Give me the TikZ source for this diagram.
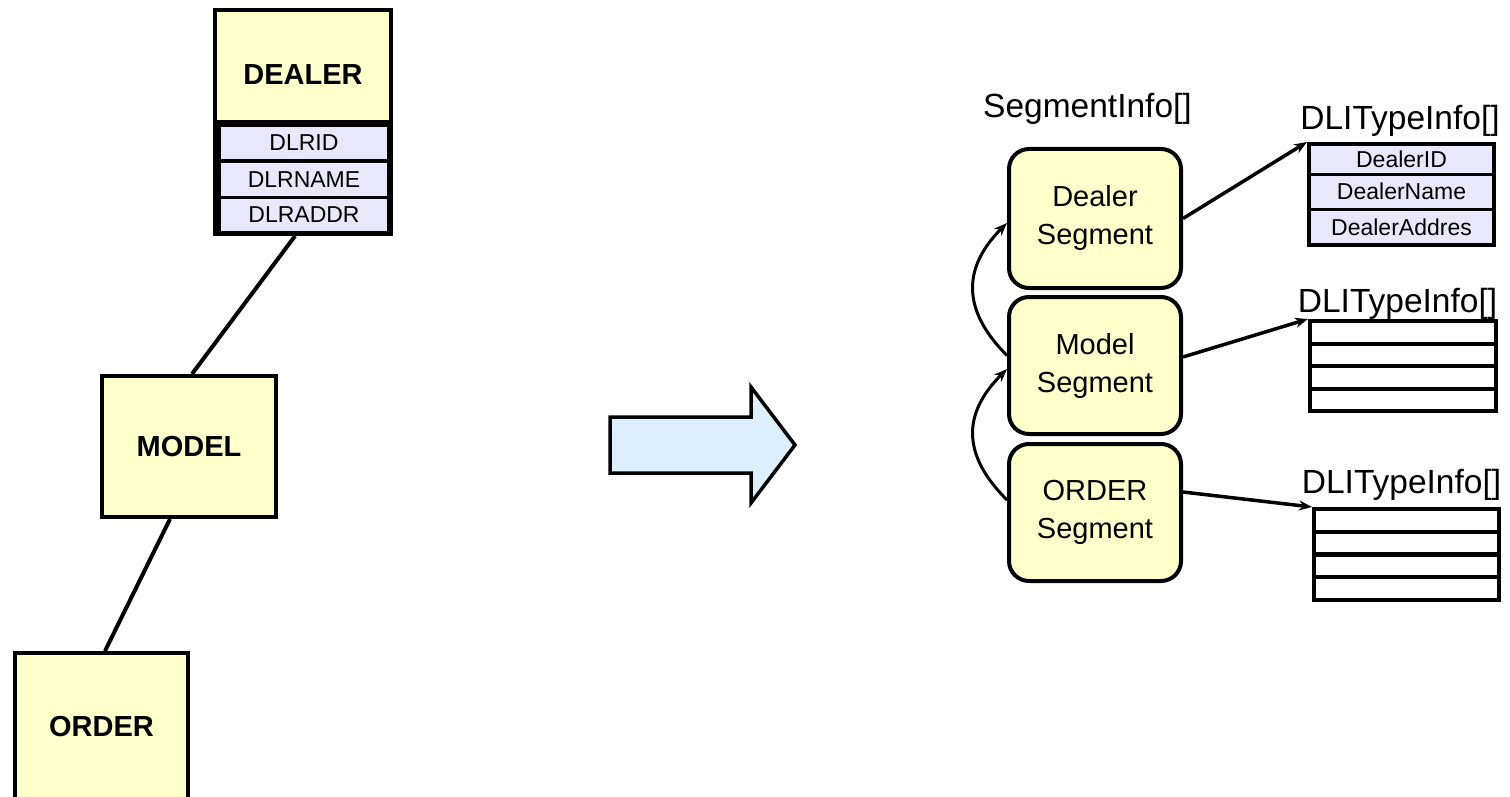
\documentclass[tikz,border=0pt]{standalone}
\usepackage{fontspec}
\setmainfont{Liberation Sans}
\usetikzlibrary{arrows.meta,calc}
\definecolor{boxyellow}{HTML}{FFFFCC}
\definecolor{rowlav}{HTML}{E8E8FA}
\definecolor{arrowblue}{HTML}{DDEEFC}
\newcommand\myfbig{\fontsize{29}{38}\selectfont}
\newcommand\myfrow{\fontsize{23}{27}\selectfont}
\newcommand\myflbl{\fontsize{33.5}{40}\selectfont}
\begin{document}
\begin{tikzpicture}[x=1pt,y=-1pt,
  ent/.style={draw, line width=4pt, fill=boxyellow, inner sep=0pt, font=\myfbig\bfseries},
  dlrrow/.style={fill=rowlav, inner sep=0pt, minimum width=166, font=\myfrow},
  seg/.style={draw, line width=4pt, fill=boxyellow, rounded corners=20pt, inner sep=0pt,
    minimum width=172, align=center, font=\myfbig},
  dlirow/.style={draw, line width=3pt, fill=rowlav, inner sep=0pt, font=\myfrow},
  emptyrow/.style={draw, line width=4pt, fill=white, inner sep=0pt},
  frame/.style={draw, line width=4pt, inner sep=0pt},
  lbl/.style={inner sep=0pt, anchor=base, font=\myflbl},
  conn/.style={line width=4pt},
  arr/.style={line width=3.5pt, -{Stealth[length=13pt,width=10pt]}},
  curv/.style={line width=3pt, -{Stealth[length=13pt,width=10pt]}}
]
\useasboundingbox (0,0) rectangle (1510,797);

% ---------- left: hierarchy ----------
\node[draw, line width=4pt, fill=black, minimum width=176, minimum height=224, inner sep=0pt] (dealer) at (303,122) {};
\node[fill=boxyellow, minimum width=172, minimum height=108, inner sep=0pt] (dealerhead) at (303,66) {};
\node[inner sep=0pt, font=\myfbig\bfseries] (dealerlbl) at (303,75) {DEALER};
\node[dlrrow, minimum height=32] (dlrid) at (304,143) {DLRID};
\node[dlrrow, minimum height=33] (dlrname) at (304,179.5) {DLRNAME};
\node[dlrrow, minimum height=32] (dlraddr) at (304,215) {DLRADDR};

\node[ent, minimum width=174, minimum height=141] (model) at (189,446.5) {MODEL};
\node[ent, minimum width=173, minimum height=148] (order) at (101.5,727) {ORDER};

\draw[conn] ([xshift=-8pt]dealer.south) -- ([xshift=3pt]model.north);
\draw[conn] ([xshift=-19pt]model.south) -- ([xshift=3.5pt]order.north);

% ---------- big arrow ----------
\draw[line width=3.5pt, fill=arrowblue, line join=miter]
  (610,417) -- (751,417) -- (751,387) -- (795,445) -- (751,503) -- (751,473) -- (610,473) -- cycle;

% ---------- right: segments ----------
\node[lbl] (seginfo) at (1087.5,118) {SegmentInfo[]};
\node[seg, minimum height=139] (sdealer) at (1095,218.5) {Dealer\\Segment};
\node[seg, minimum height=137] (smodel) at (1095,365.5) {Model\\Segment};
\node[seg, minimum height=137] (sorder) at (1095,512.5) {ORDER\\Segment};

\draw[curv] ([yshift=10pt]smodel.west) .. controls +(-45,-45) and +(-45,45) .. ([yshift=-4.5pt]sdealer.west);
\draw[curv] ([yshift=12.5pt]sorder.west) .. controls +(-45,-45) and +(-45,45) .. ([yshift=-3.5pt]smodel.west);

% ---------- DLITypeInfo 1 ----------
\node[lbl] (dlilbl1) at (1400,130) {DLITypeInfo[]};
\node[dlirow, minimum width=185, minimum height=30] (d1r1) at (1401.5,159) {DealerID};
\node[dlirow, minimum width=185, minimum height=35] (d1r2) at (1401.5,191.5) {DealerName};
\node[dlirow, minimum width=185, minimum height=36] (d1r3) at (1401.5,227) {DealerAddres};
\node[frame, minimum width=185, minimum height=101] (dli1) at (1401.5,194.5) {};

% ---------- DLITypeInfo 2 ----------
\node[lbl] (dlilbl2) at (1397.5,312) {DLITypeInfo[]};
\node[emptyrow, minimum width=186, minimum height=22.5] (d2r1) at (1403,332.25) {};
\node[emptyrow, minimum width=186, minimum height=22.5] (d2r2) at (1403,354.75) {};
\node[emptyrow, minimum width=186, minimum height=22.5] (d2r3) at (1403,377.25) {};
\node[emptyrow, minimum width=186, minimum height=22.5] (d2r4) at (1403,399.75) {};
\node[frame, minimum width=186, minimum height=90] (dli2) at (1403,366) {};

% ---------- DLITypeInfo 3 ----------
\node[lbl] (dlilbl3) at (1401.5,493) {DLITypeInfo[]};
\node[emptyrow, minimum width=185, minimum height=22.75] (d3r1) at (1406.5,520.4) {};
\node[emptyrow, minimum width=185, minimum height=22.75] (d3r2) at (1406.5,543.1) {};
\node[emptyrow, minimum width=185, minimum height=22.75] (d3r3) at (1406.5,565.9) {};
\node[emptyrow, minimum width=185, minimum height=22.75] (d3r4) at (1406.5,588.6) {};
\node[frame, minimum width=185, minimum height=91] (dli3) at (1406.5,554.5) {};

% ---------- connectors ----------
\draw[arr] (sdealer.east) -- (dli1.north west);
\draw[arr] ([yshift=8.5pt]smodel.east) -- (dli2.north west);
\draw[arr] ([yshift=20.5pt]sorder.east) -- (dli3.north west);
\end{tikzpicture}
\end{document}
